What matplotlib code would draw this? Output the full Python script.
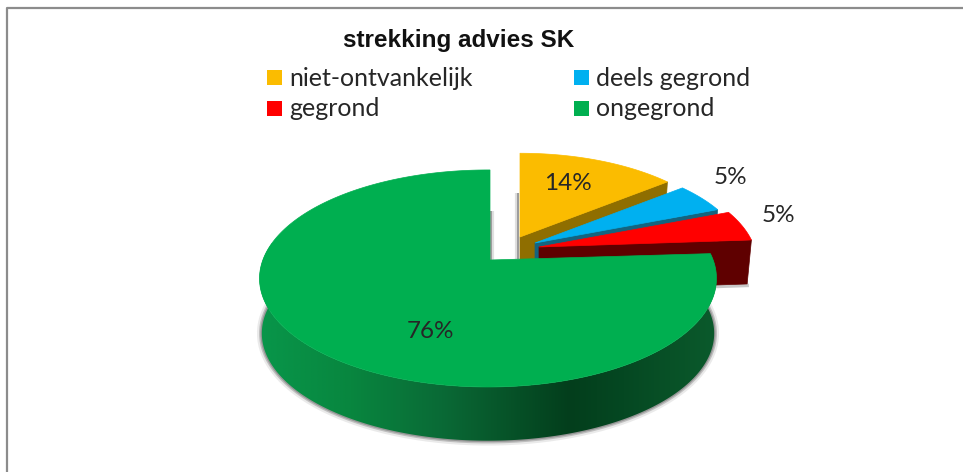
"""Exploded 3D pie of 'strekking advies SK', drawn with flat patches in pixel coordinates."""

import matplotlib as mpl

mpl.use("Agg")
import matplotlib.pyplot as plt
import numpy as np
from matplotlib.colors import LinearSegmentedColormap
from matplotlib.patches import Polygon, Rectangle

TITLE = "strekking advies SK"
CATEGORIES = ["niet-ontvankelijk", "deels gegrond", "gegrond", "ongegrond"]
VALUES = [14.3, 4.8, 4.8, 76.2]
PERCENT_LABELS = ["14%", "5%", "5%", "76%"]

FACE = ["#FBBC00", "#00B0F0", "#FF0000", "#00AF50"]
WALL = ["#8F6E00", "#14647F", "#5F0000", "#0A6030"]
INK = "#262626"

W, H = 963, 472
CX, CY = 488.0, 261.0
RX, RY, PERSP = 225.5, 105.7, 0.161
DEPTH = 55.0

# per slice: pixel shift of the apex, shrink, wall height
EXPLODE = [(32, -24, 0.92, 46), (47, -18, 0.92, 46), (51, -14, 0.955, 44), (0, 0, 1.0, DEPTH)]
LABEL_XY = [(568, 183), (730, 178), (778, 215), (431, 331)]
LEGEND_XY = [(267, 77), (574, 77), (267, 107.5), (574, 107.5)]


def rim(theta_deg, dx=0.0, dy=0.0, scale=1.0):
    """Rim points of the tilted disc, theta clockwise from the top."""
    t = np.radians(np.atleast_1d(theta_deg))
    x, y = np.sin(t), np.cos(t)
    w = 1 + PERSP * y
    return np.column_stack([CX + dx + scale * RX * x / w, CY + dy - scale * RY * y / w])


fig = plt.figure(figsize=(W / 100, H / 100), dpi=100, facecolor="white")
ax = fig.add_axes([0, 0, 1, 1])
ax.set_xlim(0, W)
ax.set_ylim(H, 0)
ax.set_axis_off()

# outer frame, only top and left are in view
ax.plot([6.5, 6.5, W], [H, 7.5, 7.5], color="#8c8c8c", lw=1.6, solid_capstyle="butt", zorder=1)

edges = 360 * np.cumsum([0] + VALUES) / sum(VALUES)

for i in range(3):
    a0, a1 = edges[i], edges[i + 1]
    dx, dy, s, d = EXPLODE[i]
    apex = np.array([[CX + dx, CY + dy]])
    tip = rim(a1, dx, dy, s)
    low = np.array([[0, d]])
    wall = np.vstack([apex, tip, tip + low + [[-(tip[0, 0] - apex[0, 0]) * 0.02, 0]], apex + low])
    if i == 0:
        # soft shadow along the left edge of the yellow slice
        for off, lw, alpha in [(2.0, 1.5, 0.55), (3.0, 3.0, 0.2)]:
            ax.plot([apex[0, 0] - off] * 2, [apex[0, 1] - 44, apex[0, 1] + 22], color="#666666",
                    lw=lw, alpha=alpha, solid_capstyle="butt", zorder=2)
    if i == 2:
        ax.plot(wall[2:, 0], wall[2:, 1] + 1.5, color="#777777", lw=2.5, alpha=0.4, zorder=2)
    ax.add_patch(Polygon(wall, closed=True, fc=WALL[i], ec=WALL[i], lw=0.5, zorder=3 + i * 2))
    thetas = np.linspace(a0, a1, 40)
    ax.add_patch(Polygon(np.vstack([apex, rim(thetas, dx, dy, s)]), closed=True,
                         fc=FACE[i], ec=FACE[i], lw=0.5, zorder=4 + i * 2))

# big slice: shaded side wall, soft shadow below it, then the top face
a0 = edges[3]
front = np.linspace(a0, 280, 160)
top_rim = rim(front)
bottom_rim = rim(front, 0, DEPTH, 0.99)
for off, lw, alpha in [(2.0, 1.5, 0.55), (3.0, 3.0, 0.2)]:
    ax.plot([CX + off + 1] * 2, [CY - 50, CY], color="#666666", lw=lw, alpha=alpha,
            solid_capstyle="butt", zorder=2)
for lw, alpha in [(7, 0.12), (4, 0.3), (2, 0.4)]:
    ax.plot(bottom_rim[:, 0], bottom_rim[:, 1], color="#5a5a5a", lw=lw, alpha=alpha, zorder=10)

wall_cmap = LinearSegmentedColormap.from_list(
    "side",
    [(0.0, "#08964A"), (0.2, "#08863F"), (0.4, "#0A6A36"), (0.68, "#033E1C"), (0.8, "#054822"), (1.0, "#0B5A2C")],
)
side = Polygon(np.vstack([top_rim, bottom_rim[::-1]]), closed=True, transform=ax.transData, fc="none", ec="none")
ax.add_patch(side)
img = ax.imshow(np.linspace(0, 1, 256).reshape(1, -1), cmap=wall_cmap, aspect="auto", zorder=11,
                extent=(259, 716, 450, 240), interpolation="bilinear")
img.set_clip_path(side)
ax.set_xlim(0, W)
ax.set_ylim(H, 0)

thetas = np.linspace(a0, 360, 300)
ax.add_patch(Polygon(np.vstack([[[CX + 2, CY - 1]], rim(thetas)[:-1], [[CX + 2, CY - RY / (1 + PERSP)]]]),
                     closed=True, fc=FACE[3], ec=FACE[3], lw=0.5, zorder=12))

for (x, y), label in zip(LABEL_XY, PERCENT_LABELS):
    ax.text(x, y, label, ha="center", va="center", family="Lato", fontsize=17.5, color=INK, zorder=20)

ax.text(343, 40, TITLE, ha="left", va="center", family="Liberation Sans", fontweight="bold",
        fontsize=17.5, color="#111111", zorder=20)

for (x, y), name, color in zip(LEGEND_XY, CATEGORIES, FACE):
    ax.add_patch(Rectangle((x, y - 7), 15, 15, fc=color, ec="none", zorder=20))
    ax.text(x + 22, y + 1, name, ha="left", va="center", family="Lato", fontsize=18, color=INK, zorder=20)

fig.savefig("out.png", dpi=100, facecolor="white")
